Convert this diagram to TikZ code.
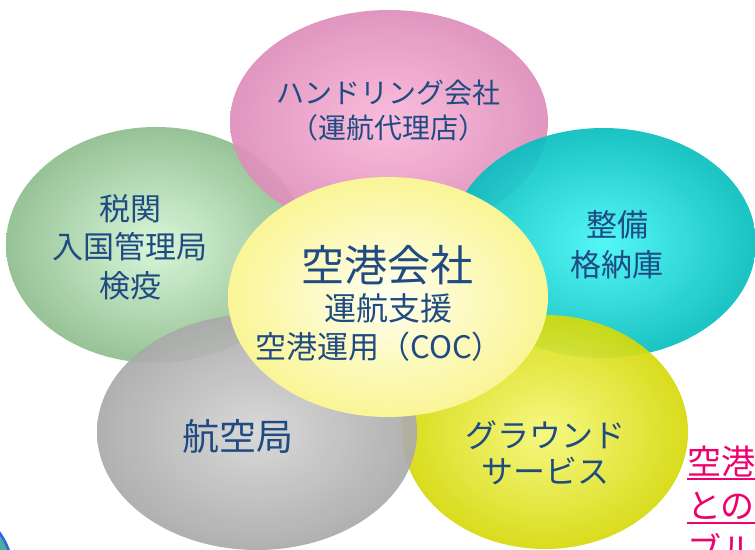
\documentclass[tikz,border=0pt]{standalone}
\usepackage{fontspec}
\setmainfont{Noto Sans CJK JP}
\definecolor{txt}{RGB}{31,75,130}
\definecolor{redtxt}{RGB}{240,0,110}
\definecolor{pinkIn}{RGB}{250,184,218}
\definecolor{pinkOut}{RGB}{222,142,186}
\definecolor{greenIn}{RGB}{214,246,214}
\definecolor{greenOut}{RGB}{142,190,142}
\definecolor{tealIn}{RGB}{70,246,246}
\definecolor{tealOut}{RGB}{8,190,190}
\definecolor{limeIn}{RGB}{246,248,120}
\definecolor{limeOut}{RGB}{214,218,10}
\definecolor{grayIn}{RGB}{214,214,214}
\definecolor{grayOut}{RGB}{170,170,170}
\definecolor{yelIn}{RGB}{255,255,240}
\definecolor{yelOut}{RGB}{250,245,150}
\definecolor{blueEdge}{RGB}{40,100,240}
\definecolor{blueFill}{RGB}{80,170,160}
\begin{document}
\begin{tikzpicture}[x=1pt,y=-1pt,
  lbl/.style={text=txt, align=center, inner sep=0pt},
  blob/.style={opacity=0.92},
  redlbl/.style={text=redtxt, anchor=base west, inner sep=0pt, font=\fontsize{34}{40}\selectfont},
  uline/.style={draw=redtxt, line width=2pt}]
\useasboundingbox (0,0) rectangle (755,549);
\fill[white] (0,0) rectangle (755,549);
\clip (0,0) rectangle (755,549);
% ellipses, back to front
\shade[blob, inner color=greenIn, outer color=greenOut] (156,245) ellipse [x radius=150pt, y radius=118pt];
\shade[blob, inner color=pinkIn, outer color=pinkOut] (389,122) ellipse [x radius=159pt, y radius=112pt];
\shade[blob, inner color=tealIn, outer color=tealOut] (603,243) ellipse [x radius=153pt, y radius=115pt];
\shade[blob, inner color=limeIn, outer color=limeOut] (545,432) ellipse [x radius=143pt, y radius=117pt];
\shade[blob, inner color=grayIn, outer color=grayOut] (257,432) ellipse [x radius=160pt, y radius=118pt];
\shade[inner color=yelIn, outer color=yelOut] (388,297) ellipse [x radius=160pt, y radius=120pt];
% corner shape
\filldraw[draw=blueEdge, fill=blueFill, line width=2.5pt] (-60,575) circle [radius=73pt];
% labels
\node[lbl, font=\fontsize{28}{35}\selectfont] (pink) at (388,111) {ハンドリング会社\\（運航代理店）};
\node[lbl, font=\fontsize{31}{38.5}\selectfont] (green) at (130,247) {税関\\入国管理局\\検疫};
\node[lbl, font=\fontsize{31}{40}\selectfont] (teal) at (617,245) {整備\\格納庫};
\node[lbl, font=\fontsize{43}{50}\selectfont] (c1) at (387,265) {空港会社};
\node[lbl, font=\fontsize{32}{38}\selectfont] (c2) at (388,308) {運航支援};
\node[lbl, font=\fontsize{31}{38}\selectfont] (c3) at (379,347) {空港運用（COC）};
\node[lbl, font=\fontsize{37}{44}\selectfont] (gray) at (238,436) {航空局};
\node[lbl, font=\fontsize{32}{36}\selectfont] (lime) at (545,453) {グラウンド\\サービス};
% red partial text at right edge
\node[redlbl] (r1) at (687,474) {空港};
\node[redlbl] (r2) at (687,518) {との};
\node[redlbl] (r3) at (687,562) {ブル};
\coordinate (u1a) at (687,479); \coordinate (u1b) at (755,479);
\coordinate (u2a) at (687,523); \coordinate (u2b) at (755,523);
\draw[uline] (u1a) -- (u1b);
\draw[uline] (u2a) -- (u2b);
\end{tikzpicture}
\end{document}
